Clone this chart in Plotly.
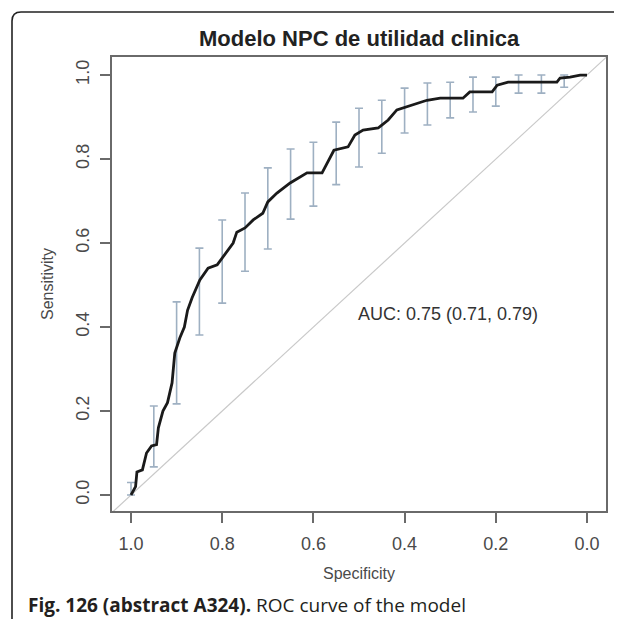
import plotly.graph_objects as go

# ROC curve (specificity, sensitivity)
roc_spec = [1.0, 0.99, 0.987, 0.975, 0.966, 0.955, 0.944, 0.94, 0.93, 0.92, 0.91, 0.904,
            0.893, 0.883, 0.876, 0.866, 0.849, 0.831, 0.811, 0.798, 0.776, 0.768, 0.75,
            0.732, 0.711, 0.70, 0.68, 0.651, 0.634, 0.614, 0.581, 0.57, 0.555, 0.524,
            0.509, 0.491, 0.458, 0.45, 0.436, 0.417, 0.406, 0.384, 0.351, 0.322, 0.272,
            0.257, 0.208, 0.197, 0.173, 0.066, 0.059, 0.037, 0.015, 0.0]
roc_sens = [0.0, 0.02, 0.055, 0.06, 0.10, 0.117, 0.12, 0.16, 0.20, 0.22, 0.267, 0.338,
            0.374, 0.40, 0.44, 0.47, 0.512, 0.54, 0.548, 0.567, 0.60, 0.626, 0.636,
            0.655, 0.671, 0.698, 0.719, 0.743, 0.755, 0.767, 0.767, 0.79, 0.821, 0.829,
            0.857, 0.869, 0.874, 0.881, 0.893, 0.917, 0.921, 0.929, 0.94, 0.945, 0.945,
            0.96, 0.96, 0.976, 0.983, 0.983, 0.993, 0.995, 1.0, 1.0]

# Confidence intervals of sensitivity at fixed specificities
ci_spec = [1.0, 0.95, 0.90, 0.85, 0.80, 0.75, 0.70, 0.65, 0.60, 0.55, 0.50,
           0.45, 0.40, 0.35, 0.30, 0.25, 0.20, 0.15, 0.10, 0.05]
ci_low = [0.0, 0.067, 0.217, 0.381, 0.457, 0.533, 0.586, 0.657, 0.688, 0.739, 0.781,
          0.814, 0.862, 0.881, 0.898, 0.912, 0.926, 0.957, 0.957, 0.971]
ci_high = [0.03, 0.212, 0.46, 0.588, 0.655, 0.719, 0.779, 0.824, 0.840, 0.888, 0.921,
           0.940, 0.969, 0.981, 0.983, 0.995, 0.995, 1.0, 1.0, 1.0]

# chance diagonal (sens = 1 - spec), drawn across the whole panel
diag_spec = [1.1, -0.1]
diag_sens = [1 - s for s in diag_spec]

tick_vals = [1.0, 0.8, 0.6, 0.4, 0.2, 0.0]
tick_text = ["1.0", "0.8", "0.6", "0.4", "0.2", "0.0"]

title_text = "Modelo NPC de utilidad clinica"
auc_text = "AUC: 0.75 (0.71, 0.79)"
auc_pos = (0.305, 0.43)
caption = "<b>Fig. 126 (abstract A324).</b> ROC curve of the model"

# page body has an 8px margin; figure is sized to fit the window
OFF = 8
W, H = 622 - OFF, 619 - OFF
L, R, T, B = 112 - OFF, 16, 57 - OFF, 108
pw, ph = W - L - R, H - T - B


def px(x):
    return (x - OFF - L) / pw


def py(y):
    return (H - B - (y - OFF)) / ph


fig = go.Figure()

fig.add_trace(go.Scatter(x=diag_spec, y=diag_sens, mode="lines",
                         line=dict(color="#c9c9c9", width=1.2),
                         hoverinfo="skip", showlegend=False))

fig.add_trace(go.Scatter(
    x=ci_spec, y=ci_low, mode="markers",
    marker=dict(size=1, color="rgba(0,0,0,0)"),
    error_y=dict(type="data", symmetric=False,
                 array=[h - l for h, l in zip(ci_high, ci_low)],
                 arrayminus=[0] * len(ci_low),
                 color="#9eb0c2", thickness=1.6, width=4),
    showlegend=False, hoverinfo="skip"))

fig.add_trace(go.Scatter(x=roc_spec, y=roc_sens, mode="lines",
                         line=dict(color="#1a1a1a", width=2.8),
                         showlegend=False))

axis_common = dict(showline=True, mirror=True, linecolor="#6a6a6a", linewidth=1.5,
                   showgrid=False, zeroline=False, ticks="outside", ticklen=10,
                   tickcolor="#6a6a6a", tickwidth=1.5,
                   tickvals=tick_vals, ticktext=tick_text,
                   tickfont=dict(family="Liberation Sans, Arial", size=18, color="#4a4a4a"))

fig.update_xaxes(range=[1.0417, -0.0417], ticklabelstandoff=6, **axis_common)
fig.update_yaxes(range=[-0.038, 1.043], tickangle=-90, ticklabelstandoff=4, **axis_common)

ann_font = "Liberation Sans, Arial"
fig.add_annotation(x=auc_pos[0], y=auc_pos[1], xref="x", yref="y", text=auc_text,
                   showarrow=False, xanchor="center", yanchor="middle",
                   font=dict(family=ann_font, size=18, color="#333333"))
fig.add_annotation(x=0.5, y=py(38), xref="paper", yref="paper", text="<b>" + title_text + "</b>",
                   showarrow=False, xanchor="center", yanchor="middle",
                   font=dict(family=ann_font, size=22, color="#222222"))
fig.add_annotation(x=px(47), y=py(284), xref="paper", yref="paper", text="Sensitivity",
                   textangle=-90, showarrow=False, xanchor="center", yanchor="middle",
                   font=dict(family=ann_font, size=16, color="#4a4a4a"))
fig.add_annotation(x=0.5, y=py(573), xref="paper", yref="paper", text="Specificity",
                   showarrow=False, xanchor="center", yanchor="middle",
                   font=dict(family=ann_font, size=16, color="#4a4a4a"))
fig.add_annotation(x=px(26), y=py(605), xref="paper", yref="paper", text=caption,
                   showarrow=False, xanchor="left", yanchor="middle",
                   font=dict(family="Open Sans", size=19, color="#231f20"))

# outer rounded frame of the figure panel
r = 9
path = (f"M {px(12)},{py(640)} L {px(12)},{py(12 + r)} "
        f"Q {px(12)},{py(12)} {px(12 + r)},{py(12)} L {px(640)},{py(12)}")
fig.add_shape(type="path", path=path, xref="paper", yref="paper",
              line=dict(color="#222222", width=1.6))

fig.update_layout(width=W, height=H, margin=dict(l=L, r=R, t=T, b=B),
                  plot_bgcolor="white", paper_bgcolor="white")

fig.write_html("out.html")
